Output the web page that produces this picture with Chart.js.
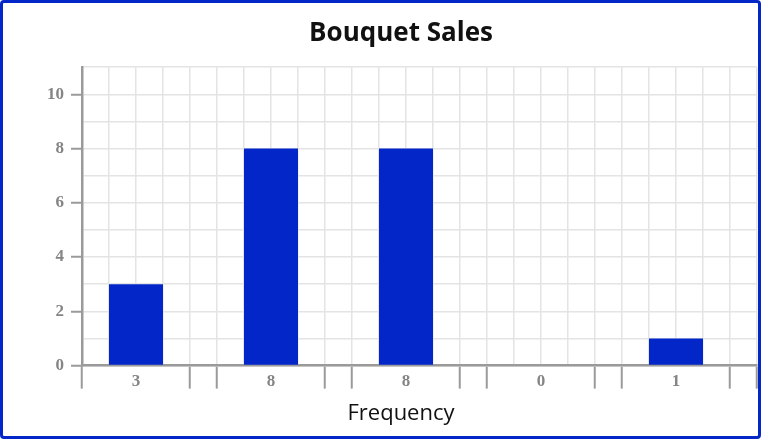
<!DOCTYPE html>
<html>
<head>
<meta charset="utf-8">
<script src="https://cdn.jsdelivr.net/npm/chart.js@4.4.0/dist/chart.umd.min.js"></script>
<style>
  html, body { margin: 0; padding: 0; background: #fff; }
  #wrap { position: relative; width: 761px; height: 439px; }
  #chart { display: block; }
  #frame {
    position: absolute; left: 0; top: 0; width: 761px; height: 439px;
    box-sizing: border-box; border: 3px solid #0326c9; border-radius: 4px;
    pointer-events: none;
  }
</style>
</head>
<body>
<div id="wrap">
  <canvas id="chart" width="761" height="439"></canvas>
  <div id="frame"></div>
</div>
<script>
// Chart data
const categories = ['3', '8', '8', '0', '1'];
const frequencies = [3, 8, 8, 0, 1];
const yLabelStep = 2;
const yMax = 11;
const xMax = 25;

// each category takes 5 grid units, bar sits on units 1-3 of its group
const groupSize = 5;
const barPoints = frequencies.map((f, i) => ({ x: i * groupSize + 2, y: f }));

const axisGrey = '#9a9a9a';
const gridGrey = '#e4e4e4';
const labelFont = { family: '"Liberation Serif", "Times New Roman", serif', size: 17, weight: 'bold' };
const textFont = '"Open Sans", Lato, sans-serif';

const ctx = document.getElementById('chart').getContext('2d');
const chart = new Chart(ctx, {
    type: 'bar',
    data: {
        datasets: [{
            data: barPoints,
            backgroundColor: '#0226c8',
            borderWidth: 0,
            // bar width is measured against one grid unit, so 2 units wide
            barPercentage: 2,
            categoryPercentage: 1
        }]
    },
    options: {
        responsive: false,
        animation: false,
        devicePixelRatio: 1,
        layout: { padding: { left: 45, right: 4, top: 0, bottom: 0 } },
        plugins: {
            legend: { display: false },
            tooltip: { enabled: false },
            title: {
                display: true,
                text: 'Bouquet Sales',
                color: '#111',
                font: { family: textFont, size: 26, weight: 'bold' },
                padding: { top: 18, bottom: 18 }
            },
            subtitle: {
                display: true,
                position: 'bottom',
                text: 'Frequency',
                color: '#111',
                font: { family: textFont, size: 22, weight: 'normal' },
                padding: { top: 12, bottom: 12 }
            }
        },
        scales: {
            x: {
                type: 'linear',
                min: 0,
                max: xMax,
                offset: false,
                border: { display: true, color: axisGrey, width: 2.5 },
                grid: {
                    offset: false,
                    color: gridGrey,
                    lineWidth: 1.5,
                    tickLength: 23,
                    tickWidth: 2,
                    // tick marks only on the edges of each group
                    tickColor: (c) => {
                        const m = c.tick ? c.tick.value % groupSize : -1;
                        return (m === 0 || m === groupSize - 1) ? axisGrey : 'rgba(0,0,0,0)';
                    }
                },
                ticks: {
                    stepSize: 1,
                    autoSkip: false,
                    maxRotation: 0,
                    padding: -17,
                    color: '#858585',
                    font: labelFont,
                    callback: (v) => {
                        const i = (v - 2) / groupSize;
                        return Number.isInteger(i) && i < categories.length ? categories[i] : '';
                    }
                },
                afterFit: (scale) => { scale.height = 23; }
            },
            y: {
                min: 0,
                max: yMax,
                border: { display: true, color: axisGrey, width: 2.5 },
                grid: {
                    color: gridGrey,
                    lineWidth: 1.5,
                    tickLength: 11,
                    tickWidth: 2,
                    tickColor: (c) => (c.tick && c.tick.value % yLabelStep === 0) ? axisGrey : 'rgba(0,0,0,0)'
                },
                ticks: {
                    stepSize: 1,
                    autoSkip: false,
                    padding: 7,
                    color: '#858585',
                    font: labelFont,
                    callback: (v) => (v % yLabelStep === 0 ? v : '')
                },
                afterFit: (scale) => { scale.width = 37; }
            }
        }
    }
});
</script>
</body>
</html>
